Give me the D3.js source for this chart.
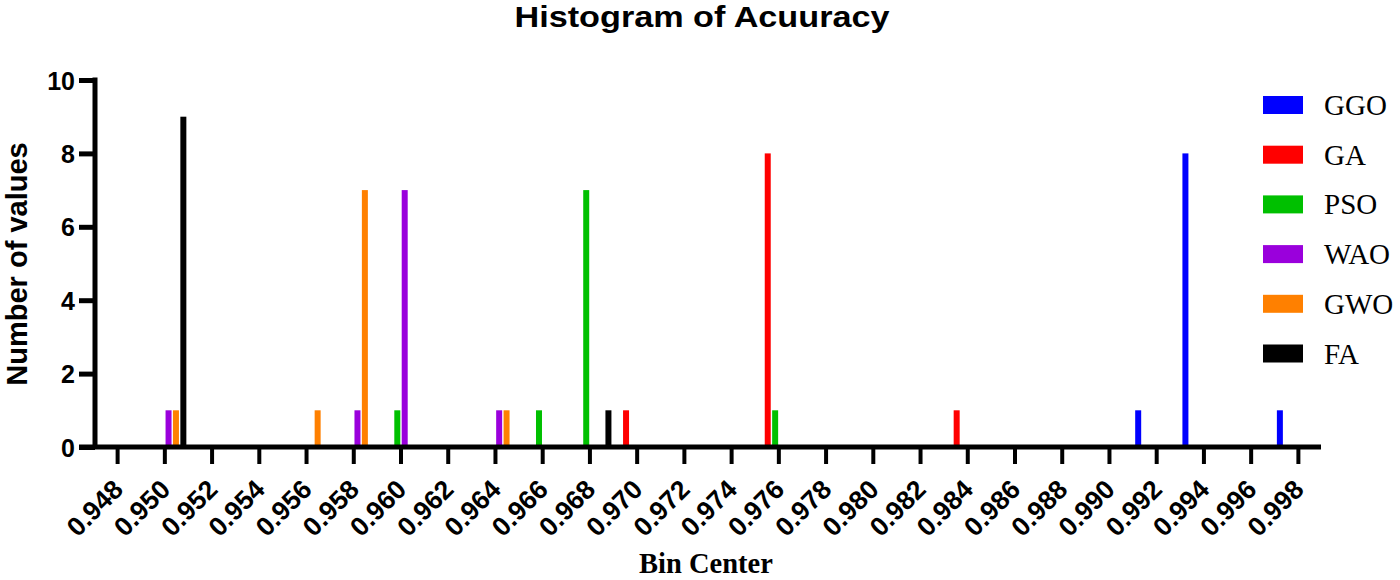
<!DOCTYPE html>
<html>
<head>
<meta charset="utf-8">
<script src="https://cdn.jsdelivr.net/npm/d3@7"></script>
<style>
  html, body { margin: 0; padding: 0; background: #fff; }
  svg { display: block; }
</style>
</head>
<body>
<svg id="chart" width="1400" height="580"></svg>
<script>
// ---- Data ----
const binCenters = ["0.948","0.950","0.952","0.954","0.956","0.958","0.960","0.962","0.964","0.966",
                    "0.968","0.970","0.972","0.974","0.976","0.978","0.980","0.982","0.984","0.986",
                    "0.988","0.990","0.992","0.994","0.996","0.998"];
const seriesNames = ["GGO","GA","PSO","WAO","GWO","FA"];
const seriesColors = ["#0000FF","#FF0000","#00C000","#9A00DC","#FF8000","#000000"];
//           .948 .950 .952 .954 .956 .958 .960 .962 .964 .966 .968 .970 .972 .974 .976 .978 .980 .982 .984 .986 .988 .990 .992 .994 .996 .998
const GGO = [0,0,0,0,0,0,0,0,0,0, 0,0,0,0,0,0,0,0,0,0, 0,0,1,8,0,1];
const GA  = [0,0,0,0,0,0,0,0,0,0, 0,1,0,0,8,0,0,0,1,0, 0,0,0,0,0,0];
const PSO = [0,0,0,0,0,0,1,0,0,1, 7,0,0,0,1,0,0,0,0,0, 0,0,0,0,0,0];
const WAO = [0,1,0,0,0,1,7,0,1,0, 0,0,0,0,0,0,0,0,0,0, 0,0,0,0,0,0];
const GWO = [0,1,0,0,1,7,0,0,1,0, 0,0,0,0,0,0,0,0,0,0, 0,0,0,0,0,0];
const FA  = [0,9,0,0,0,0,0,0,0,0, 1,0,0,0,0,0,0,0,0,0, 0,0,0,0,0,0];
const seriesValues = [GGO, GA, PSO, WAO, GWO, FA];
const yTicks = [0, 2, 4, 6, 8, 10];

const titleText = "Histogram of Acuuracy";
const xTitle = "Bin Center";
const yTitle = "Number of values";

// ---- Build ----
const svg = d3.select("#chart");
const sans = "'Liberation Sans', Arial, Helvetica, sans-serif";
const serif = "'Liberation Serif', 'Times New Roman', serif";

const x = d3.scaleBand().domain(binCenters).range([94, 1322]).paddingInner(0).paddingOuter(0);
const x1 = d3.scaleBand().domain(seriesNames).range([0, x.bandwidth()]).paddingInner(0.19).paddingOuter(0.285);
const y = d3.scaleLinear().domain([0, 10]).range([447, 80]);

// Bars
const rows = [];
seriesNames.forEach((s, si) => {
  seriesValues[si].forEach((v, bi) => {
    if (v > 0) rows.push({ series: s, color: seriesColors[si], bin: binCenters[bi], value: v });
  });
});
svg.append("g").selectAll("rect").data(rows).join("rect")
  .attr("x", d => x(d.bin) + x1(d.series))
  .attr("width", x1.bandwidth())
  .attr("y", d => y(d.value))
  .attr("height", d => y(0) - y(d.value))
  .attr("fill", d => d.color);

// X axis
const gx = svg.append("g").attr("transform", `translate(0,${y(0)})`)
  .call(d3.axisBottom(x).tickSize(17).tickSizeOuter(0));
gx.select(".domain").remove();
gx.selectAll(".tick line").attr("stroke", "#000").attr("stroke-width", 4);
gx.selectAll(".tick text")
  .attr("x", null).attr("y", null).attr("dy", null)
  .attr("text-anchor", "end")
  .attr("transform", "translate(7,44) rotate(-45)")
  .attr("fill", "#000")
  .style("font-family", sans).style("font-weight", "bold").style("font-size", "26.5px");
svg.append("line")
  .attr("x1", 79).attr("x2", 1321).attr("y1", y(0)).attr("y2", y(0))
  .attr("stroke", "#000").attr("stroke-width", 5);

// Y axis
const gy = svg.append("g").attr("transform", "translate(95,0)")
  .call(d3.axisLeft(y).tickValues(yTicks).tickFormat(d3.format("d")).tickSize(16).tickPadding(4));
gy.select(".domain").remove();
gy.selectAll(".tick line").attr("stroke", "#000").attr("stroke-width", 5);
gy.selectAll(".tick text")
  .attr("fill", "#000")
  .attr("dy", "0.36em")
  .style("font-family", sans).style("font-weight", "bold").style("font-size", "25px");
svg.append("line")
  .attr("x1", 95).attr("x2", 95).attr("y1", y(10) - 2.5).attr("y2", y(0))
  .attr("stroke", "#000").attr("stroke-width", 5);

// Titles
svg.append("text")
  .attr("x", 702).attr("y", 27)
  .attr("text-anchor", "middle")
  .attr("textLength", 375).attr("lengthAdjust", "spacingAndGlyphs")
  .style("font-family", sans).style("font-weight", "bold").style("font-size", "29px")
  .text(titleText);

svg.append("text")
  .attr("x", 706).attr("y", 573)
  .attr("text-anchor", "middle")
  .style("font-family", serif).style("font-weight", "bold").style("font-size", "28.5px")
  .text(xTitle);

svg.append("text")
  .attr("transform", "translate(27,264) rotate(-90)")
  .attr("text-anchor", "middle")
  .style("font-family", sans).style("font-weight", "bold").style("font-size", "29px")
  .text(yTitle);

// Legend
const legend = svg.append("g").attr("transform", "translate(1263,96)");
const leg = legend.selectAll("g").data(seriesNames).join("g")
  .attr("transform", (d, i) => `translate(0,${i * 49.7})`);
leg.append("rect").attr("x", 0).attr("y", 0).attr("width", 40).attr("height", 18)
  .attr("fill", (d, i) => seriesColors[i]);
leg.append("text").attr("x", 61).attr("y", 19)
  .style("font-family", serif).style("font-size", "29px").attr("fill", "#000")
  .text(d => d);
</script>
</body>
</html>
